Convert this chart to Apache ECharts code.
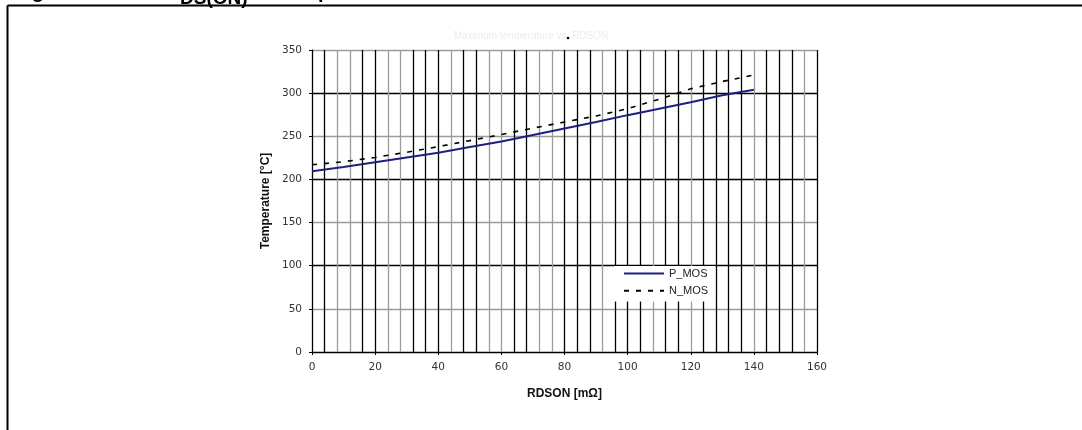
<!DOCTYPE html>
<html>
<head>
<meta charset="utf-8">
<script src="https://cdn.jsdelivr.net/npm/echarts@6/dist/echarts.min.js"></script>
<style>
  html, body { margin: 0; padding: 0; background: #fff; }
  #chart { width: 1082px; height: 430px; }
</style>
</head>
<body>
<div id="chart"></div>
<script>
// ---- data ----
const rdson = [0, 10, 20, 30, 40, 50, 60, 70, 80, 90, 100, 110, 120, 130, 140];
const pMos  = [209.5, 214.5, 220, 225.5, 231, 237.5, 244, 251.5, 259, 266.5, 274.5, 282, 289.5, 297.5, 304];
const nMos  = [217, 220.5, 225.5, 231.5, 238, 245, 252, 259.5, 266.5, 273.5, 282, 293, 305, 313.5, 321];
const seriesNames = ['P_MOS', 'N_MOS'];
const xTitle = 'RDSON [mΩ]';
const yTitle = 'Temperature [°C]';

// ---- styles ----
const D = '#000', G = '#9c9c9c';
const vLineColors = [D,D,G,G,D,D,G,G,D,D,D,G,D,D,G,G,D,D,G,G,D,D,D,G,D,D,D,G,D,D,G,D,D,D,D,G,D,D,D,G,D];
const labelFont = { fontFamily: 'DejaVu Sans', fontSize: 10.5, color: '#333' };
const titleFont = { fontFamily: 'Liberation Sans', fontSize: 12, fontWeight: 'bold', color: '#111' };

const chart = echarts.init(document.getElementById('chart'), null, { renderer: 'canvas' });
chart.setOption({
  backgroundColor: '#fff',
  animation: false,
  grid: { left: 312, right: 265, top: 50, bottom: 78, containLabel: false },
  graphic: [
    { type: 'line', shape: { x1: 7.5, y1: 5.5, x2: 1082, y2: 5.5 }, style: { stroke: '#000', lineWidth: 2 } },
    { type: 'line', shape: { x1: 7.5, y1: 5.5, x2: 7.5, y2: 430 }, style: { stroke: '#000', lineWidth: 2 } },
    { type: 'text', x: 14, y: -7.4, style: { text: 'Figure 9.', font: 'bold 20px "Liberation Sans"', fill: '#000', verticalAlign: 'middle', align: 'left' } },
    { type: 'text', x: 180, y: -7.4, style: { text: 'R', font: 'bold 20px "Liberation Sans"', fill: '#000', verticalAlign: 'middle', align: 'right' } },
    { type: 'text', x: 180, y: -1.6, style: { text: 'DS(ON)', font: 'bold 19px "Liberation Sans"', fill: '#000', verticalAlign: 'middle', align: 'left' } },
    { type: 'text', x: 249, y: -7.4, style: { text: ' vs temperature', font: 'bold 20px "Liberation Sans"', fill: '#000', verticalAlign: 'middle', align: 'left' } },
    { type: 'text', x: 531, y: 36, style: { text: 'Maximum temperature vs. RDSON', font: '10px "Liberation Sans"', fill: '#ececec', verticalAlign: 'middle', align: 'center' } },
    { type: 'circle', shape: { cx: 568, cy: 38, r: 1.3 }, style: { fill: '#000' } }
  ],
  legend: {
    orient: 'vertical',
    left: 614, top: 266,
    padding: [2, 7, 5, 9],
    backgroundColor: '#fff',
    itemWidth: 40, itemHeight: 14, itemGap: 6,
    itemStyle: { opacity: 0, color: 'transparent', borderWidth: 0 },
    data: seriesNames,
    textStyle: { fontFamily: 'Liberation Sans', fontSize: 11, color: '#222' }
  },
  xAxis: [
    {
      type: 'value', min: 0, max: 160, interval: 20,
      name: xTitle, nameLocation: 'middle', nameGap: 36, nameTextStyle: titleFont,
      axisLine: { show: true, onZero: false, lineStyle: { color: '#000', width: 1 } },
      axisTick: { show: true, length: 3, lineStyle: { color: '#000' } },
      axisLabel: Object.assign({ margin: 10 }, labelFont),
      splitLine: { show: false }
    },
    {
      type: 'value', min: 0, max: 160, interval: 4, position: 'bottom',
      axisLine: { show: false }, axisTick: { show: false }, axisLabel: { show: false },
      splitLine: { show: true, lineStyle: { color: vLineColors, width: 1.3 } }
    }
  ],
  yAxis: {
    type: 'value', min: 0, max: 350, interval: 50,
    name: yTitle, nameLocation: 'middle', nameGap: 40, nameRotate: 90, nameTextStyle: titleFont,
    axisLine: { show: true, lineStyle: { color: '#000', width: 1 } },
    axisTick: { show: true, length: 3, lineStyle: { color: '#000' } },
    axisLabel: Object.assign({ margin: 10 }, labelFont),
    splitLine: { show: true, lineStyle: { color: [D, G], width: 1.3 } }
  },
  series: [
    {
      name: seriesNames[0], type: 'line', xAxisIndex: 0,
      data: rdson.map((x, i) => [x, pMos[i]]),
      symbol: 'none', lineStyle: { color: '#1f1f80', width: 2 }, itemStyle: { color: '#1f1f80' }, z: 5
    },
    {
      name: seriesNames[1], type: 'line', xAxisIndex: 0,
      data: rdson.map((x, i) => [x, nMos[i]]),
      symbol: 'none', lineStyle: { color: '#000', width: 1.6, type: [5, 7] }, itemStyle: { color: '#000' }, z: 5
    }
  ]
});
</script>
</body>
</html>
